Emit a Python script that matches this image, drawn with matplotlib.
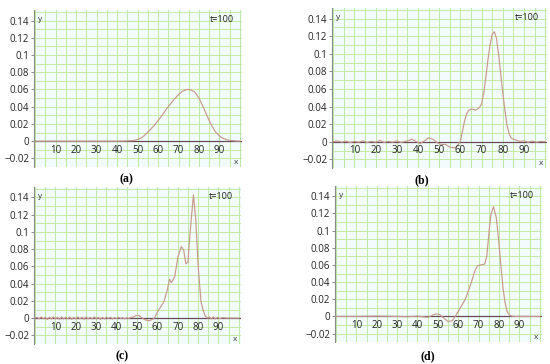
import matplotlib
matplotlib.use("Agg")
import matplotlib.pyplot as plt
import numpy as np

# ---- data ----
xa = [0, 10, 20, 30, 40, 44, 48, 50, 52, 54, 56, 58, 60, 62, 64, 66, 68, 70, 72, 74,
      75, 76, 78, 80, 82, 84, 86, 88, 90, 92, 94, 96, 98, 100]
ya = [0, 0, 0, 0, 0, 0.0002, 0.0008, 0.002, 0.004, 0.008, 0.013, 0.018, 0.024, 0.030,
      0.037, 0.043, 0.049, 0.054, 0.058, 0.060, 0.060, 0.0595, 0.057, 0.050, 0.040,
      0.029, 0.019, 0.011, 0.006, 0.003, 0.0015, 0.0008, 0.0003, 0.0001]

xb = [0, 2, 4, 6, 8, 10, 12, 14, 16, 18, 20, 22, 24, 26, 28, 30, 32, 34, 36, 37, 39,
      41, 43, 45, 47, 49, 51, 53, 55, 57, 58, 59, 60, 61, 62, 63, 64, 65, 66, 67, 68,
      69, 70, 71, 72, 73, 74, 75, 76, 77, 78, 79, 80, 81, 82, 83, 84, 85, 86, 88, 90,
      92, 94, 96, 98, 100]
yb = [0, 0.001, -0.0005, 0.0008, -0.0008, 0.0005, -0.0005, 0.001, -0.0008, 0.0005,
      -0.0005, 0.0015, -0.0008, 0.0005, -0.0005, 0.001, -0.0008, 0.0005, 0.0015,
      0.003, 0.0005, -0.002, 0.001, 0.0045, 0.003, -0.001, -0.003, -0.003, -0.006,
      -0.007, -0.006, -0.003, 0.001, 0.012, 0.024, 0.032, 0.036, 0.037, 0.037,
      0.036, 0.037, 0.039, 0.043, 0.055, 0.073, 0.093, 0.110, 0.122, 0.125, 0.118,
      0.100, 0.078, 0.056, 0.036, 0.019, 0.009, 0.004, 0.003, 0.002, 0.0005,
      0.001, -0.0005, 0.0008, -0.0005, 0.0005, 0]

xc = [0, 1, 2, 3, 4, 5, 6, 7, 8, 9, 10, 11, 12, 13, 14, 15, 16, 17, 18, 19, 20, 21,
      22, 23, 24, 25, 26, 27, 28, 29, 30, 31, 32, 33, 34, 35, 36, 37, 38, 39, 40, 41,
      42, 43, 44, 45, 46, 47, 48, 49.5, 51, 52, 54, 56, 58, 59, 60, 61.6, 63.2, 64.8,
      66, 66.9, 68.5, 70.1, 71.7, 72.9, 74, 75, 76.1, 77.7, 78.8, 80.1, 81.4, 82.5,
      83.6, 84.9, 85.5, 86.5, 87.5, 88.5, 89.5, 90.5, 92, 94, 96, 98, 100]
yc = [0, 0.001, -0.001, 0.0015, -0.001, 0.001, -0.0015, 0.001, -0.001, 0.0015,
      -0.001, 0.001, -0.0015, 0.0015, -0.001, 0.001, -0.001, 0.0015, -0.0015,
      0.001, -0.001, 0.0015, -0.001, 0.001, -0.0015, 0.0015, -0.001, 0.001, -0.001,
      0.0015, -0.001, 0.001, -0.0015, 0.001, -0.001, 0.001, -0.0005, 0.001, -0.001,
      0.0005, -0.0005, 0.001, -0.0005, 0.0005, -0.001, 0.0005, -0.0005, 0.001,
      0.001, 0.003, 0.003, 0.001, -0.002, -0.003, -0.001, 0.002, 0.007, 0.013,
      0.019, 0.032, 0.045, 0.041, 0.048, 0.071, 0.083, 0.079, 0.063, 0.065, 0.100,
      0.143, 0.116, 0.058, 0.019, 0.009, 0.002, 0.0, 0.0015, -0.001, 0.0015,
      -0.001, 0.001, -0.0005, 0.0005, 0, 0, 0, 0]

xd = [0, 10, 20, 30, 35, 40, 43, 45, 47, 49, 51, 53, 55, 57, 58, 59, 61, 63, 64,
      65, 66.5, 68, 69.5, 71, 73, 74, 75, 76, 77.3, 78.7, 80, 81, 82, 83, 84, 85,
      86, 88, 90, 95, 100]
yd = [0, 0, 0.0003, 0, -0.0003, 0.0003, -0.0005, -0.001, 0.001, 0.003, 0.002,
      -0.002, -0.006, -0.005, -0.002, 0.002, 0.010, 0.018, 0.023, 0.030, 0.040,
      0.052, 0.059, 0.060, 0.061, 0.070, 0.095, 0.118, 0.128, 0.115, 0.085, 0.058,
      0.033, 0.016, 0.006, 0.002, 0.0005, 0, 0, 0, 0]

panels = [(xa, ya, "(a)"), (xb, yb, "(b)"), (xc, yc, "(c)"), (xd, yd, "(d)")]
xticks = [10, 20, 30, 40, 50, 60, 70, 80, 90]
yticks = [-0.02, 0, 0.02, 0.04, 0.06, 0.08, 0.1, 0.12, 0.14]
ytick_labels = ["\u22120.02", "0", "0.02", "0.04", "0.06", "0.08", "0.1", "0.12", "0.14"]

# axes rectangles [left, bottom, width, height] and caption positions
rects = [[0.062, 0.541, 0.378, 0.431],
         [0.604, 0.538, 0.391, 0.440],
         [0.062, 0.055, 0.376, 0.431],
         [0.609, 0.060, 0.376, 0.429]]
caps = [(0.229, 0.508), (0.767, 0.506), (0.222, 0.022), (0.778, 0.022)]

plt.rcParams['font.family'] = ['Open Sans', 'DejaVu Sans']
fig = plt.figure(figsize=(5.5, 3.64), dpi=100)

for (x, y, cap), r, cp in zip(panels, rects, caps):
    ax = fig.add_axes(r)
    ax.set_facecolor('#f2fcfc')
    ax.set_xlim(-0.5, 101)
    ax.set_ylim(-0.03, 0.152)
    # green grid
    for gx in np.arange(0, 101, 5):
        ax.axvline(gx, color='#bfe8a6', lw=0.7, zorder=1)
    for gy in np.arange(-0.03, 0.151, 0.01):
        ax.axhline(gy, color='#c6e9a8', lw=0.7, zorder=1)
    ax.plot(x, y, color='#c8988c', lw=0.85, zorder=3)
    ax.axhline(0, color='#6a4a5a', lw=0.9, zorder=2)

    for s in ['top', 'right', 'bottom']:
        ax.spines[s].set_visible(False)
    ax.spines['left'].set_color('#8a8a8a')
    ax.spines['left'].set_linewidth(0.8)
    ax.set_yticks(yticks)
    ax.set_yticklabels(ytick_labels)
    ax.set_xticks([])
    ax.tick_params(axis='y', labelsize=7, length=2, width=0.6, color='#777777',
                   pad=1.5, labelcolor='#222222')
    for t in xticks:
        ax.text(t, -0.004, str(t), ha='center', va='top', fontsize=7, color='#222222',
                zorder=4)
    ax.text(1.5, 0.141, "y", ha='left', va='center', fontsize=6, color='#333333')
    ax.text(98, -0.025, "x", ha='center', va='center', fontsize=6, color='#333333')
    ax.text(97, 0.141, "t=100", ha='right', va='center', fontsize=6.5, color='#222222')
    fig.text(cp[0], cp[1], cap, ha='center', va='center', fontsize=8.5,
             family='Liberation Serif', weight='bold')

fig.savefig("out.png", dpi=100)
